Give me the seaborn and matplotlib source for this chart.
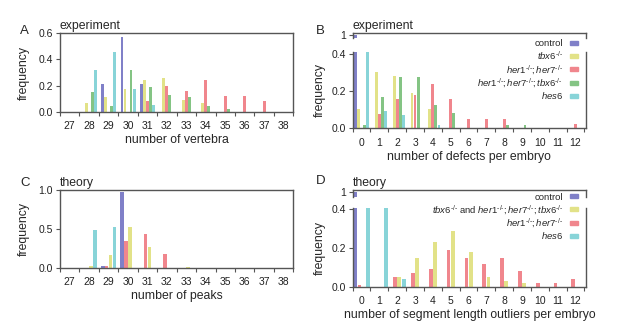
import pandas as pd
import seaborn as sns
import matplotlib.pyplot as plt
from matplotlib.patches import Patch

sns.set_style('ticks')
plt.rcParams['font.family'] = ['Liberation Sans', 'DejaVu Sans']
plt.rcParams['mathtext.fontset'] = 'custom'
plt.rcParams['mathtext.rm'] = 'Liberation Sans'
plt.rcParams['mathtext.it'] = 'Liberation Sans:italic'
plt.rcParams['axes.edgecolor'] = '#555555'
plt.rcParams['axes.linewidth'] = 1.0
plt.rcParams['xtick.color'] = '#555555'
plt.rcParams['ytick.color'] = '#555555'
plt.rcParams['xtick.labelcolor'] = '#222222'
plt.rcParams['ytick.labelcolor'] = '#222222'

# --- A: experiment, number of vertebra
vertebra = list(range(27, 39))
vert_control = [0, 0, .21, .57, .21, 0, 0, 0, 0, 0, 0, 0]
vert_tbx6 = [0, .07, .11, .17, .24, .26, .09, .07, 0, 0, 0, 0]
vert_her = [0, 0, 0, 0, .08, .20, .16, .24, .12, .12, .08, 0]
vert_triple = [0, .15, .04, .32, .19, .13, .11, .04, .02, 0, 0, 0]
vert_hes6 = [0, .32, .46, .17, .05, 0, 0, 0, 0, 0, 0, 0]

# --- B: experiment, defects per embryo
defects = list(range(0, 13))
def_control = [1.0, 0, 0, 0, 0, 0, 0, 0, 0, 0, 0, 0, 0]
def_tbx6 = [.105, .30, .28, .19, .105, 0, 0, 0, 0, 0, 0, 0, 0]
def_her = [0, .075, .155, .18, .235, .155, .05, .05, .05, 0, 0, 0, .025]
def_triple = [.02, .165, .275, .275, .125, .08, 0, 0, .02, .02, 0, 0, 0]
def_hes6 = [.815, .095, .07, 0, .02, 0, 0, 0, 0, 0, 0, 0, 0]

# --- C: theory, number of peaks
peaks = list(range(27, 39))
peak_control = [0, 0, .02, .97, 0, 0, 0, 0, 0, 0, 0, 0]
peak_her = [0, 0, .02, .35, .43, .18, 0, 0, 0, 0, 0, 0]
peak_tbx6 = [0, .02, .17, .53, .27, 0, .005, 0, 0, 0, 0, 0]
peak_hes6 = [0, .48, .52, 0, 0, 0, 0, 0, 0, 0, 0, 0]

# --- D: theory, segment length outliers
outliers = list(range(0, 13))
out_control = [.99, 0, 0, 0, 0, 0, 0, 0, 0, 0, 0, 0, 0]
out_her = [.01, 0, .05, .07, .09, .19, .15, .12, .15, .08, .02, .02, .04]
out_tbx6 = [0, 0, .05, .15, .23, .29, .18, .05, .03, .02, 0, 0, 0]
out_hes6 = [.48, .48, .04, 0, 0, 0, 0, 0, 0, 0, 0, 0, 0]

colors = {'control': '#8080c8', 'tbx6': '#e2e288', 'her': '#f0868d',
          'triple': '#84c484', 'hes6': '#88d4d8'}
ko = r'^{\text{-/-}}'
labels = {'control': 'control',
          'tbx6': r'$\mathit{tbx6}' + ko + '$',
          'her': r'$\mathit{her1}' + ko + r'\mathit{;her7}' + ko + '$',
          'triple': r'$\mathit{her1}' + ko + r'\mathit{;her7}' + ko + r'\mathit{;tbx6}' + ko + '$',
          'hes6': r'$\mathit{hes6}$'}


def long_table(x, series):
    rows = [(xi, name, v) for name, vals in series.items() for xi, v in zip(x, vals)]
    return pd.DataFrame(rows, columns=['x', 'genotype', 'frequency'])


def bars(ax, df, order, width, gap):
    sns.barplot(data=df, x='x', y='frequency', hue='genotype', hue_order=order,
                palette=[colors[g] for g in order], native_scale=True, dodge=True,
                width=width, gap=gap, errorbar=None, saturation=1, linewidth=0,
                legend=False, ax=ax)


def style_x(ax, x, lo, hi, xlabel):
    ax.set_xlim(lo, hi)
    ax.set_xticks(x)
    ax.set_xticklabels([str(v) for v in x])
    ax.set_xticks([v - 0.5 for v in x] + [x[-1] + 0.5], minor=True)
    ax.tick_params(axis='x', which='major', length=0, pad=7, labelsize=7.5)
    ax.tick_params(axis='x', which='minor', length=3, width=0.8, direction='out')
    ax.set_xlabel(xlabel, fontsize=8.8, labelpad=2)


def style_y(ax, ticks, ticklabels):
    ax.set_yticks(ticks)
    ax.set_yticklabels(ticklabels)
    ax.tick_params(axis='y', length=3, width=0.8, pad=2, labelsize=7.5)


def add_legend(handles, top):
    fig.legend(handles=handles, loc='upper right', bbox_to_anchor=(0.937, top),
               bbox_transform=fig.transFigure, frameon=False, markerfirst=False,
               fontsize=6.8, handlelength=0.9, handleheight=0.3, handletextpad=0.7,
               labelspacing=0.1, borderpad=0, borderaxespad=0)


fig = plt.figure(figsize=(6.17, 3.31), dpi=100)

# A
df_a = long_table(vertebra, {'control': vert_control, 'tbx6': vert_tbx6, 'her': vert_her,
                             'triple': vert_triple, 'hes6': vert_hes6})
ax_a = fig.add_axes([0.0972, 0.6625, 0.3782, 0.2369])
bars(ax_a, df_a, ['control', 'tbx6', 'her', 'triple', 'hes6'], 0.775, 0.04)
ax_a.set_ylim(0, 0.6)
style_y(ax_a, [0, .2, .4, .6], ['0.0', '0.2', '0.4', '0.6'])
style_x(ax_a, vertebra, 26.5, 38.5, 'number of vertebra')
ax_a.set_ylabel('frequency', fontsize=8.8, labelpad=6)
ax_a.set_title('experiment', loc='left', fontsize=8.8, pad=3)

# B (broken axis)
df_b = long_table(defects, {'control': def_control, 'tbx6': def_tbx6, 'her': def_her,
                            'triple': def_triple, 'hes6': def_hes6})
order_b = ['control', 'tbx6', 'her', 'triple', 'hes6']
ax_bt = fig.add_axes([0.5716, 0.8837, 0.3784, 0.0157])
ax_bb = fig.add_axes([0.5716, 0.6124, 0.3784, 0.2314])
for ax in (ax_bt, ax_bb):
    bars(ax, df_b, order_b, 0.85, 0.06)
ax_bt.set_ylim(0.97, 1.02)
ax_bb.set_ylim(0, 0.41)
style_y(ax_bt, [1], ['1'])
style_y(ax_bb, [0, .2, .4], ['0.0', '0.2', '0.4'])
style_x(ax_bb, defects, -0.5, 12.6, 'number of defects per embryo')
ax_bt.set_xlim(-0.5, 12.6)
ax_bt.set_xticks([])
ax_bt.set_xticks([], minor=True)
ax_bt.set_xlabel('')
ax_bt.set_ylabel('')
ax_bt.spines['bottom'].set_visible(False)
ax_bb.spines['top'].set_visible(False)
ax_bb.set_ylabel('frequency', fontsize=8.8, labelpad=4)
ax_bt.set_title('experiment', loc='left', fontsize=8.8, pad=3)
add_legend([Patch(color=colors[g], label=labels[g]) for g in order_b], 0.882)

# C
df_c = long_table(peaks, {'control': peak_control, 'her': peak_her, 'tbx6': peak_tbx6,
                          'hes6': peak_hes6})
ax_c = fig.add_axes([0.0972, 0.1912, 0.3782, 0.2347])
bars(ax_c, df_c, ['control', 'her', 'tbx6', 'hes6'], 0.82, 0.05)
ax_c.set_ylim(0, 1.0)
style_y(ax_c, [0, .5, 1.0], ['0.0', '0.5', '1.0'])
style_x(ax_c, peaks, 26.5, 38.5, 'number of peaks')
ax_c.set_ylabel('frequency', fontsize=8.8, labelpad=6)
ax_c.set_title('theory', loc='left', fontsize=8.8, pad=3)

# D (broken axis)
df_d = long_table(outliers, {'control': out_control, 'her': out_her, 'tbx6': out_tbx6,
                             'hes6': out_hes6})
order_d = ['control', 'her', 'tbx6', 'hes6']
ax_dt = fig.add_axes([0.5716, 0.4048, 0.3784, 0.0211])
ax_db = fig.add_axes([0.5716, 0.1338, 0.3784, 0.2363])
for ax in (ax_dt, ax_db):
    bars(ax, df_d, order_d, 0.96, 0.12)
ax_dt.set_ylim(0.93, 1.02)
ax_db.set_ylim(0, 0.405)
style_y(ax_dt, [1], ['1'])
style_y(ax_db, [0, .2, .4], ['0.0', '0.2', '0.4'])
style_x(ax_db, outliers, -0.5, 12.6, 'number of segment length outliers per embryo')
ax_dt.set_xlim(-0.5, 12.6)
ax_dt.set_xticks([])
ax_dt.set_xticks([], minor=True)
ax_dt.set_xlabel('')
ax_dt.set_ylabel('')
ax_dt.spines['bottom'].set_visible(False)
ax_db.spines['top'].set_visible(False)
ax_db.set_ylabel('frequency', fontsize=8.8, labelpad=4)
ax_dt.set_title('theory', loc='left', fontsize=8.8, pad=3)
labels_d = ['control', labels['tbx6'][:-1] + r'\ \mathrm{and}\ ' + labels['triple'][1:],
            labels['her'], labels['hes6']]
add_legend([Patch(color=colors[g], label=l)
            for g, l in zip(['control', 'tbx6', 'her', 'hes6'], labels_d)], 0.418)

# panel letters
for letter, x, y in [('A', 0.033, 0.905), ('B', 0.512, 0.905),
                     ('C', 0.033, 0.447), ('D', 0.512, 0.452)]:
    fig.text(x, y, letter, fontsize=9.5, ha='left', va='center')

fig.savefig('out.png', dpi=100)
